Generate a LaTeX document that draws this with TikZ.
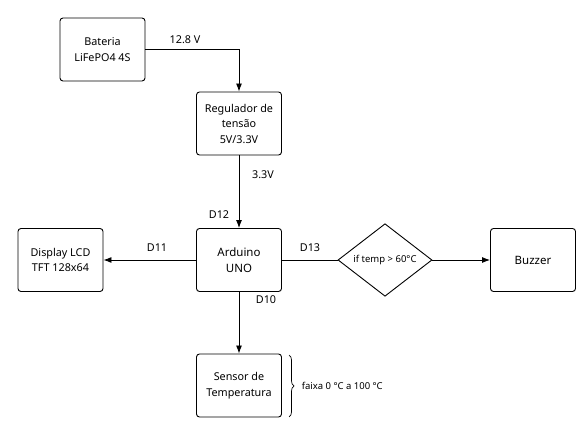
\documentclass[tikz,border=0pt]{standalone}
\usepackage{fontspec}
\setmainfont{Noto Sans}
\usetikzlibrary{arrows.meta,shapes.geometric,decorations.pathreplacing}
\tikzset{every path/.style={black,line width=0.9pt},
  box/.style={draw,rounded corners=3pt,minimum width=85pt,minimum height=63pt,align=center,font=\fontsize{10.8}{15.5}\selectfont},
  big/.style={font=\fontsize{11.5}{16}\selectfont},
  lbl/.style={font=\fontsize{10.8}{12}\selectfont},
  arr/.style={-{Latex[length=8pt,width=6pt]}}}
\begin{document}
\begin{tikzpicture}[x=1pt,y=1pt]
  \useasboundingbox (0,0) rectangle (586,436);
  \node[box] (bat) at (102.5,386.5) {Bateria\\LiFePO4 4S};
  \node[box] (reg) at (239,312.5) {Regulador de\\tensão\\5V/3.3V};
  \node[box,big] (ard) at (239,176) {Arduino\\UNO};
  \node[box] (lcd) at (60.5,176) {Display LCD\\TFT 128x64};
  \node[box,big] (buz) at (533,176) {Buzzer};
  \node[box] (sen) at (239,50.5) {Sensor de\\Temperatura};
  \node[draw,diamond,inner sep=0pt,minimum width=94pt,minimum height=71pt,font=\fontsize{9.5}{11}\selectfont] (dec) at (385,176) {if temp > 60°C};
  \draw[arr] (bat.east) -| (reg.north);
  \draw[arr] (reg) -- (ard);
  \draw[arr] (ard) -- (lcd);
  \draw (ard) -- (dec);
  \draw[arr] (dec) -- (buz);
  \draw[arr] (ard) -- (sen);
  \draw[decorate,decoration={brace,amplitude=5pt},line width=0.7pt] (289,81) -- (289,19);
  \node[lbl] (v128) at (185,396) {12.8 V};
  \node[lbl] (v33) at (263,261) {3.3V};
  \node[lbl] (d12) at (219,221) {D12};
  \node[lbl] (d11) at (157,188) {D11};
  \node[lbl] (d13) at (310,188) {D13};
  \node[lbl] (d10) at (266,136) {D10};
  \node[anchor=west,font=\fontsize{9.5}{11}\selectfont] (rng) at (298,50) {faixa 0 °C a 100 °C};
\end{tikzpicture}
\end{document}
